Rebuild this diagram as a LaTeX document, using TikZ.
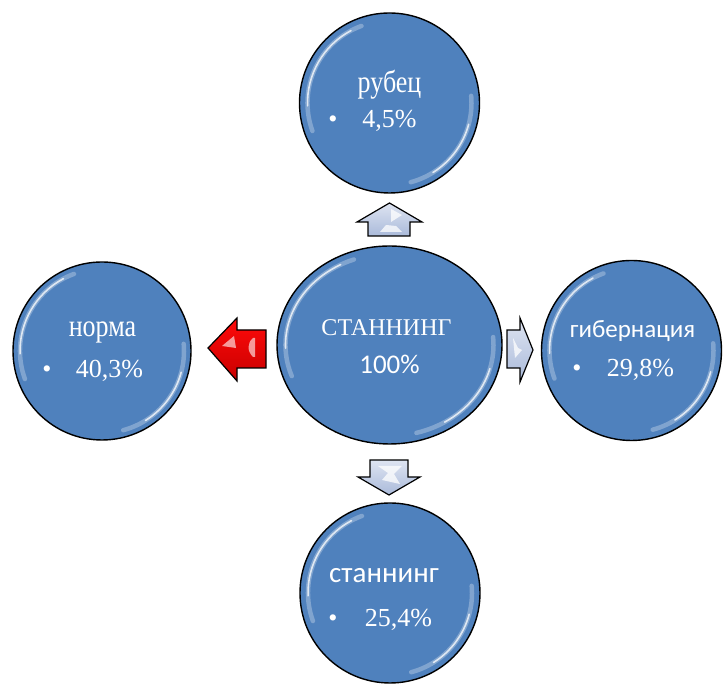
\documentclass[tikz,border=0pt]{standalone}
\usepackage{fontspec}
\setmainfont{Liberation Serif}
\newfontfamily\calibri{Carlito}
\usetikzlibrary{shapes.geometric}
\definecolor{ballblue}{RGB}{79,129,189}
\definecolor{arrowpale}{RGB}{200,210,232}
\definecolor{arrowdeep}{RGB}{170,186,218}
\definecolor{hotred}{RGB}{255,10,10}
\definecolor{deepred}{RGB}{200,0,0}
\begin{document}
\begin{tikzpicture}[x=1pt,y=1pt,
  bubble/.style={draw=black, line width=1.4pt, fill=ballblue, inner sep=0pt},
  glow/.style={white, line cap=round, line width=4.5pt, opacity=0.28},
  shine/.style={white, line cap=round, line width=1.6pt, opacity=0.75},
  txt/.style={text=white, anchor=base, inner sep=0pt, font=\fontsize{26}{30}\selectfont},
  tall/.style={txt, yscale=1.2, transform shape},
  ctxt/.style={txt, font=\calibri\fontsize{26}{30}\selectfont},
  blockarrow/.style={draw=black, line width=1.2pt, line join=miter, top color=arrowpale!60!white, bottom color=arrowdeep},
  redarrow/.style={draw=black, line width=1.2pt, line join=miter, top color=hotred, bottom color=deepred},
  gleam/.style={fill=white, opacity=0.75, draw=none}]
\useasboundingbox (0,0) rectangle (723,684);

% ---- balls ----
\node[bubble, circle, minimum size=180pt] (up) at (389.5,581) {};
\node[bubble, ellipse, minimum width=225pt, minimum height=198pt] (hub) at (389.5,339) {};
\node[bubble, circle, minimum size=178pt] (west) at (102,333) {};
\node[bubble, circle, minimum size=180pt] (east) at (631.5,333.5) {};
\node[bubble, circle, minimum size=180pt] (down) at (390,91) {};

% glossy rim highlights on the round balls
\foreach \b in {up,west,east,down}{
  \draw[glow] ([shift={(110:82pt)}]\b.center) arc[start angle=110, end angle=200, radius=82pt];
  \draw[shine] ([shift={(118:82pt)}]\b.center) arc[start angle=118, end angle=182, radius=82pt];
  \draw[glow] ([shift={(-75:82pt)}]\b.center) arc[start angle=-75, end angle=5, radius=82pt];
  \draw[shine] ([shift={(-58:82pt)}]\b.center) arc[start angle=-58, end angle=-15, radius=82pt];
}
% and on the central ellipse
\draw[glow] ([shift={(110:104pt and 91pt)}]hub.center) arc[start angle=110, end angle=200, x radius=104pt, y radius=91pt];
\draw[shine] ([shift={(118:104pt and 91pt)}]hub.center) arc[start angle=118, end angle=182, x radius=104pt, y radius=91pt];
\draw[glow] ([shift={(-75:104pt and 91pt)}]hub.center) arc[start angle=-75, end angle=5, x radius=104pt, y radius=91pt];
\draw[shine] ([shift={(-58:104pt and 91pt)}]hub.center) arc[start angle=-58, end angle=-15, x radius=104pt, y radius=91pt];

% ---- labels ----
\node[txt, font=\fontsize{24}{28}\selectfont] (hubname) at (386.5,348) {СТАННИНГ};
\node[ctxt, font=\calibri\fontsize{27}{30}\selectfont] (hubval) at (389.5,310) {100\%};

\node[tall] (upname) at (389.5,591) {рубец};
\node[txt] (upbul) at (333,556) {•};
\node[txt] (upval) at (389.5,556) {4,5\%};

\node[tall] (westname) at (102.5,347) {норма};
\node[txt] (westbul) at (47,306) {•};
\node[txt] (westval) at (109.5,306) {40,3\%};

\node[ctxt, font=\calibri\fontsize{25}{30}\selectfont] (eastname) at (632.5,346) {гибернация};
\node[txt] (eastbul) at (577,307) {•};
\node[txt] (eastval) at (640.5,307) {29,8\%};

\node[ctxt, font=\calibri\fontsize{29}{32}\selectfont] (downname) at (384,101) {станнинг};
\node[txt] (downbul) at (333,57) {•};
\node[txt] (downval) at (398.5,57) {25,4\%};

% ---- block arrows ----
\coordinate (upT) at (389.5,481);
\draw[blockarrow] (368,448) -- (368,462) -- (357,462) -- (upT) -- (422,462) -- (410,462) -- (410,448) -- cycle;
\fill[gleam] (380,452) -- (402,452) -- (396,458) -- (386,459) -- cycle;
\fill[gleam] (391,462) -- (402,469) -- (391,475) -- cycle;

\coordinate (downT) at (389,189);
\draw[blockarrow] (370,224) -- (370,207) -- (358,207) -- (downT) -- (420,207) -- (408,207) -- (408,224) -- cycle;
\fill[gleam] (378,218) -- (402,218) -- (394,210) -- (400,200) -- (382,204) -- (388,211) -- cycle;

\coordinate (westT) at (208,336);
\draw[redarrow] (266,354) -- (237,354) -- (237,366) -- (westT) -- (237,303) -- (237,316) -- (266,316) -- cycle;
\fill[gleam, opacity=0.6] (222,338) -- (234,348) -- (236,336) -- cycle;
\fill[gleam, opacity=0.6] (253,327) .. controls (247,333) and (247,341) .. (253,346) -- (255,346) -- (255,327) -- cycle;

\coordinate (eastT) at (533,334);
\draw[blockarrow] (507,354) -- (520,354) -- (520,366) -- (eastT) -- (520,302) -- (520,316) -- (507,316) -- cycle;
\fill[gleam] (513,346) -- (518,336) -- (522,334) -- (515,326) -- cycle;
\end{tikzpicture}
\end{document}
